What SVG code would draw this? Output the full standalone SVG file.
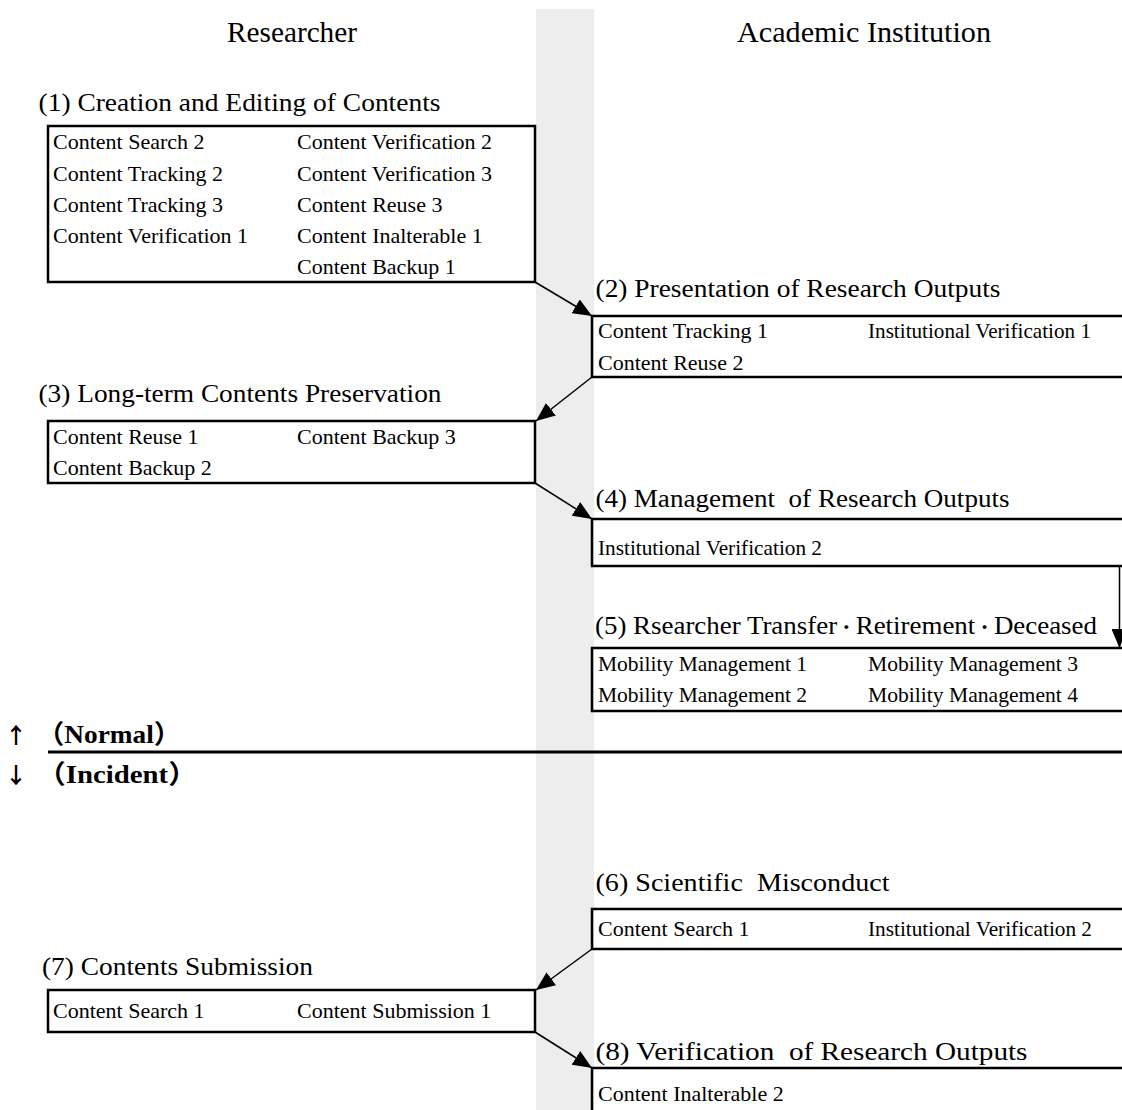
<svg xmlns="http://www.w3.org/2000/svg" width="1122" height="1110" viewBox="0 0 1122 1110">
<defs>
<style>
.hd{font-family:"Liberation Serif","Times New Roman",serif;font-size:30px;fill:#000}
.tt{font-family:"Liberation Serif","Noto Sans CJK JP","Times New Roman",serif;font-size:26px;fill:#000}
.it{font-family:"Liberation Serif","Times New Roman",serif;font-size:22px;fill:#000}
.bx{fill:none;stroke:#000;stroke-width:2.5}
.cn{fill:none;stroke:#000;stroke-width:1.5}
.sep{font-family:"Liberation Serif","Noto Sans CJK JP",serif;font-size:26px;font-weight:bold;fill:#000}
.arr{font-family:"Noto Sans CJK JP","DejaVu Sans",sans-serif;font-size:22px;font-weight:bold;fill:#000;text-anchor:middle}
.dot{font-family:"Noto Sans CJK JP",sans-serif;font-size:18px}
</style>
<marker id="ah" markerUnits="userSpaceOnUse" markerWidth="20" markerHeight="16" viewBox="0 0 20 16" refX="19" refY="8" orient="auto">
<path d="M0,0 L19,8 L0,16 z" fill="#000"/>
</marker>
</defs>
<rect x="0" y="0" width="1122" height="1110" fill="#fff"/>
<rect x="536" y="9" width="58" height="1101" fill="#ededed"/>

<g id="headers">
<text class="hd" x="227" y="42" textLength="130" lengthAdjust="spacingAndGlyphs">Researcher</text>
<text class="hd" x="737" y="42" textLength="254" lengthAdjust="spacingAndGlyphs">Academic Institution</text>
</g>

<g id="node1">
<text class="tt" x="38.5" y="111" textLength="402" lengthAdjust="spacingAndGlyphs">(1) Creation and Editing of Contents</text>
<rect class="bx" x="48" y="126" width="487" height="156"/>
<text class="it" x="53" y="149">Content Search 2</text>
<text class="it" x="53" y="181">Content Tracking 2</text>
<text class="it" x="53" y="212">Content Tracking 3</text>
<text class="it" x="53" y="243">Content Verification 1</text>
<text class="it" x="297" y="149">Content Verification 2</text>
<text class="it" x="297" y="181">Content Verification 3</text>
<text class="it" x="297" y="212">Content Reuse 3</text>
<text class="it" x="297" y="243">Content Inalterable 1</text>
<text class="it" x="297" y="274">Content Backup 1</text>
</g>

<g id="node2">
<text class="tt" x="595.5" y="297" textLength="405" lengthAdjust="spacingAndGlyphs">(2) Presentation of Research Outputs</text>
<rect class="bx" x="592" y="316" width="545" height="61"/>
<text class="it" x="598" y="338">Content Tracking 1</text>
<text class="it" x="598" y="370">Content Reuse 2</text>
<text class="it" x="868" y="338" textLength="223" lengthAdjust="spacingAndGlyphs">Institutional Verification 1</text>
</g>

<g id="node3">
<text class="tt" x="38.5" y="402" textLength="403" lengthAdjust="spacingAndGlyphs">(3) Long-term Contents Preservation</text>
<rect class="bx" x="48" y="421" width="487" height="62"/>
<text class="it" x="53" y="444">Content Reuse 1</text>
<text class="it" x="53" y="475">Content Backup 2</text>
<text class="it" x="297" y="444">Content Backup 3</text>
</g>

<g id="node4">
<text class="tt" x="595.5" y="507" textLength="414" lengthAdjust="spacingAndGlyphs" xml:space="preserve">(4) Management  of Research Outputs</text>
<rect class="bx" x="592" y="519" width="545" height="47"/>
<text class="it" x="598" y="555" textLength="224" lengthAdjust="spacingAndGlyphs">Institutional Verification 2</text>
</g>

<g id="node5">
<text class="tt" x="595" y="634" textLength="502" lengthAdjust="spacingAndGlyphs">(5) Rsearcher Transfer<tspan class="dot">・</tspan>Retirement<tspan class="dot">・</tspan>Deceased</text>
<rect class="bx" x="592" y="648" width="545" height="63"/>
<text class="it" x="598" y="671" textLength="209" lengthAdjust="spacingAndGlyphs">Mobility Management 1</text>
<text class="it" x="598" y="702" textLength="209" lengthAdjust="spacingAndGlyphs">Mobility Management 2</text>
<text class="it" x="868" y="671" textLength="210" lengthAdjust="spacingAndGlyphs">Mobility Management 3</text>
<text class="it" x="868" y="702" textLength="210" lengthAdjust="spacingAndGlyphs">Mobility Management 4</text>
</g>

<g id="separator">
<text class="arr" x="16" y="743">↑</text>
<text class="sep" x="37" y="743" textLength="144" lengthAdjust="spacingAndGlyphs">（Normal）</text>
<line x1="48" y1="752" x2="1122" y2="752" stroke="#000" stroke-width="3"/>
<text class="arr" x="16" y="783">↓</text>
<text class="sep" x="37" y="783" textLength="160" lengthAdjust="spacingAndGlyphs">（Incident）</text>
</g>

<g id="node6">
<text class="tt" x="595.5" y="891" textLength="294" lengthAdjust="spacingAndGlyphs" xml:space="preserve">(6) Scientific  Misconduct</text>
<rect class="bx" x="592" y="909" width="545" height="40"/>
<text class="it" x="598" y="936">Content Search 1</text>
<text class="it" x="868" y="936" textLength="224" lengthAdjust="spacingAndGlyphs">Institutional Verification 2</text>
</g>

<g id="node7">
<text class="tt" x="42" y="975" textLength="271" lengthAdjust="spacingAndGlyphs">(7) Contents Submission</text>
<rect class="bx" x="48" y="990" width="487" height="42"/>
<text class="it" x="53" y="1018">Content Search 1</text>
<text class="it" x="297" y="1018">Content Submission 1</text>
</g>

<g id="node8">
<text class="tt" x="595.5" y="1060" textLength="432" lengthAdjust="spacingAndGlyphs" xml:space="preserve">(8) Verification  of Research Outputs</text>
<rect class="bx" x="592" y="1068" width="545" height="60"/>
<text class="it" x="598" y="1101">Content Inalterable 2</text>
</g>

<g id="connectors">
<line class="cn" x1="535" y1="282" x2="592" y2="316" marker-end="url(#ah)"/>
<line class="cn" x1="592" y1="377" x2="536" y2="421" marker-end="url(#ah)"/>
<line class="cn" x1="535" y1="483" x2="592" y2="519" marker-end="url(#ah)"/>
<line class="cn" x1="1119.5" y1="566" x2="1119.5" y2="648" marker-end="url(#ah)"/>
<line class="cn" x1="592" y1="949" x2="536" y2="990" marker-end="url(#ah)"/>
<line class="cn" x1="535" y1="1032" x2="592" y2="1068" marker-end="url(#ah)"/>
</g>
</svg>
